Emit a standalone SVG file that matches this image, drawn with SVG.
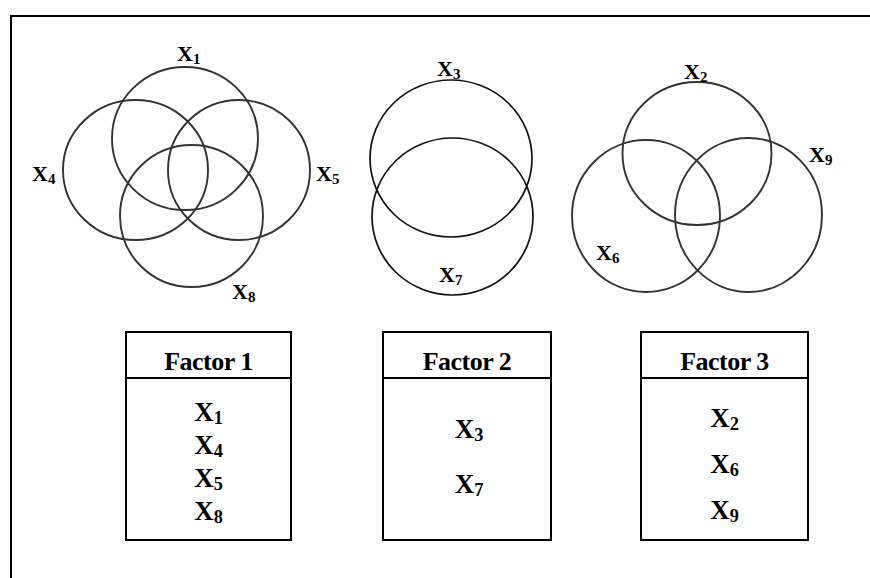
<svg xmlns="http://www.w3.org/2000/svg" width="870" height="578" viewBox="0 0 870 578">
<style>
  .frame{fill:none;stroke:#000;stroke-width:2}
  .c{fill:none;stroke:#333;stroke-width:1.9}
  .c2{fill:none;stroke:#111;stroke-width:1.7}
  .box{fill:#fff;stroke:#000;stroke-width:2}
  .lbl{font-family:"Liberation Serif","Times New Roman","DejaVu Serif",serif;font-weight:bold;font-size:22px;fill:#000}
  .hd{font-family:"Liberation Serif","Times New Roman","DejaVu Serif",serif;font-weight:bold;font-size:26px;fill:#000;text-anchor:middle;letter-spacing:-0.5px}
  .it{font-family:"Liberation Serif","Times New Roman","DejaVu Serif",serif;font-weight:bold;font-size:27px;fill:#000;text-anchor:middle}
  .sub{font-size:0.68em}
</style>
<rect width="870" height="578" fill="#fff"/>
<path class="frame" d="M11,578 V16 H870"/>

<g id="venn1">
  <ellipse class="c" cx="185" cy="138.5" rx="73" ry="71.5"/>
  <ellipse class="c" cx="135.5" cy="170" rx="72.5" ry="70"/>
  <ellipse class="c" cx="239" cy="170" rx="71" ry="70"/>
  <ellipse class="c" cx="191.5" cy="216" rx="71.5" ry="71"/>
  <text class="lbl" x="177" y="61">X<tspan class="sub" dy="3">1</tspan></text>
  <text class="lbl" x="32" y="181">X<tspan class="sub" dy="3">4</tspan></text>
  <text class="lbl" x="316" y="181">X<tspan class="sub" dy="3">5</tspan></text>
  <text class="lbl" x="232" y="299">X<tspan class="sub" dy="3">8</tspan></text>
</g>

<g id="venn2">
  <ellipse class="c2" cx="451" cy="158.5" rx="81" ry="78.5"/>
  <ellipse class="c2" cx="452.5" cy="216.5" rx="80.5" ry="78.5"/>
  <text class="lbl" x="437" y="76">X<tspan class="sub" dy="3">3</tspan></text>
  <text class="lbl" x="439" y="282">X<tspan class="sub" dy="3">7</tspan></text>
</g>

<g id="venn3">
  <ellipse class="c" cx="697" cy="153.5" rx="74.5" ry="71.5"/>
  <ellipse class="c" cx="646" cy="216" rx="74" ry="76"/>
  <ellipse class="c" cx="748.5" cy="215" rx="73.5" ry="77"/>
  <text class="lbl" x="684" y="79">X<tspan class="sub" dy="3">2</tspan></text>
  <text class="lbl" x="809" y="162">X<tspan class="sub" dy="3">9</tspan></text>
  <text class="lbl" x="596" y="260">X<tspan class="sub" dy="3">6</tspan></text>
</g>

<g id="factor1">
  <rect class="box" x="126" y="332" width="165" height="208"/>
  <line class="box" x1="126" y1="378" x2="291" y2="378"/>
  <text class="hd" x="208.5" y="370">Factor 1</text>
  <text class="it" x="208.5" y="421">X<tspan class="sub" dy="3">1</tspan></text>
  <text class="it" x="208.5" y="454">X<tspan class="sub" dy="3">4</tspan></text>
  <text class="it" x="208.5" y="487">X<tspan class="sub" dy="3">5</tspan></text>
  <text class="it" x="208.5" y="520">X<tspan class="sub" dy="3">8</tspan></text>
</g>

<g id="factor2">
  <rect class="box" x="383" y="332" width="168" height="208"/>
  <line class="box" x1="383" y1="378" x2="551" y2="378"/>
  <text class="hd" x="467" y="370">Factor 2</text>
  <text class="it" x="469" y="438">X<tspan class="sub" dy="3">3</tspan></text>
  <text class="it" x="469" y="493">X<tspan class="sub" dy="3">7</tspan></text>
</g>

<g id="factor3">
  <rect class="box" x="641" y="332" width="167" height="208"/>
  <line class="box" x1="641" y1="378" x2="808" y2="378"/>
  <text class="hd" x="724.5" y="370">Factor 3</text>
  <text class="it" x="724.5" y="427">X<tspan class="sub" dy="3">2</tspan></text>
  <text class="it" x="724.5" y="473">X<tspan class="sub" dy="3">6</tspan></text>
  <text class="it" x="724.5" y="519">X<tspan class="sub" dy="3">9</tspan></text>
</g>

<g id="connectors"></g>
</svg>
